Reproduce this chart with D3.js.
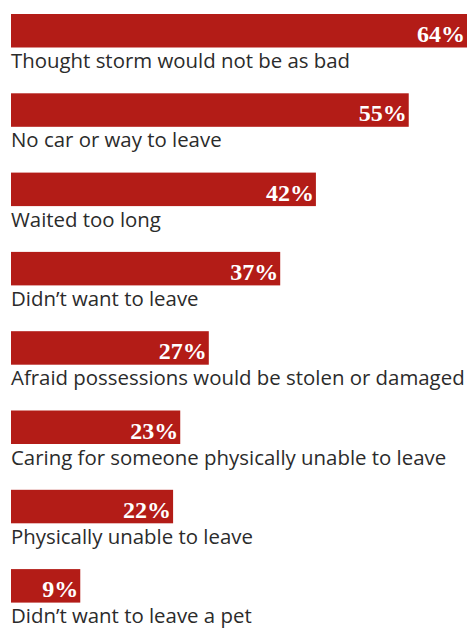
<!DOCTYPE html>
<html>
<head>
<meta charset="utf-8">
<script src="https://cdn.jsdelivr.net/npm/d3@7"></script>
<style>
  html, body { margin: 0; padding: 0; background: #fff; }
  svg { display: block; }
</style>
</head>
<body>
<svg id="chart" width="467" height="628"></svg>
<script>
// Reasons given for not evacuating
const reasons = [
  "Thought storm would not be as bad",
  "No car or way to leave",
  "Waited too long",
  "Didn\u2019t want to leave",
  "Afraid possessions would be stolen or damaged",
  "Caring for someone physically unable to leave",
  "Physically unable to leave",
  "Didn\u2019t want to leave a pet"
];
const shares = [64, 55, 42, 37, 27, 23, 22, 9];

const W = 467;
const left = 11;
const barH = 33.5;
const step = 79.3;
const svg = d3.select("#chart");

const x = d3.scaleLinear().domain([0, 64]).range([5, 462]);
const y = d3.scaleBand()
  .domain(reasons)
  .range([14, 14 + step * (reasons.length - 1) + barH])
  .paddingInner(1 - barH / step)
  .paddingOuter(0);

const rows = svg.selectAll("g.row")
  .data(reasons.map((r, i) => ({ reason: r, value: shares[i] })))
  .join("g")
  .attr("class", "row")
  .attr("transform", d => `translate(${left},${y(d.reason)})`);

rows.append("rect")
  .attr("x", 0)
  .attr("y", 0)
  .attr("width", d => x(d.value))
  .attr("height", y.bandwidth())
  .attr("fill", "#b31c17");

// value label sits at the bar's end, kept inside the visible area
rows.append("text")
  .attr("x", d => Math.min(x(d.value), W - left) - 2)
  .attr("y", y.bandwidth() - 5.5)
  .attr("text-anchor", "end")
  .attr("fill", "#fff")
  .attr("font-family", "'Liberation Serif', 'DejaVu Serif', serif")
  .attr("font-weight", "bold")
  .attr("font-size", 24)
  .text(d => d.value + "%");

rows.append("text")
  .attr("x", 0)
  .attr("y", y.bandwidth() + 20.5)
  .attr("fill", "#2b2b2b")
  .attr("font-family", "'Open Sans', 'Noto Sans', sans-serif")
  .attr("font-size", 20.4)
  .text(d => d.reason);
</script>
</body>
</html>
